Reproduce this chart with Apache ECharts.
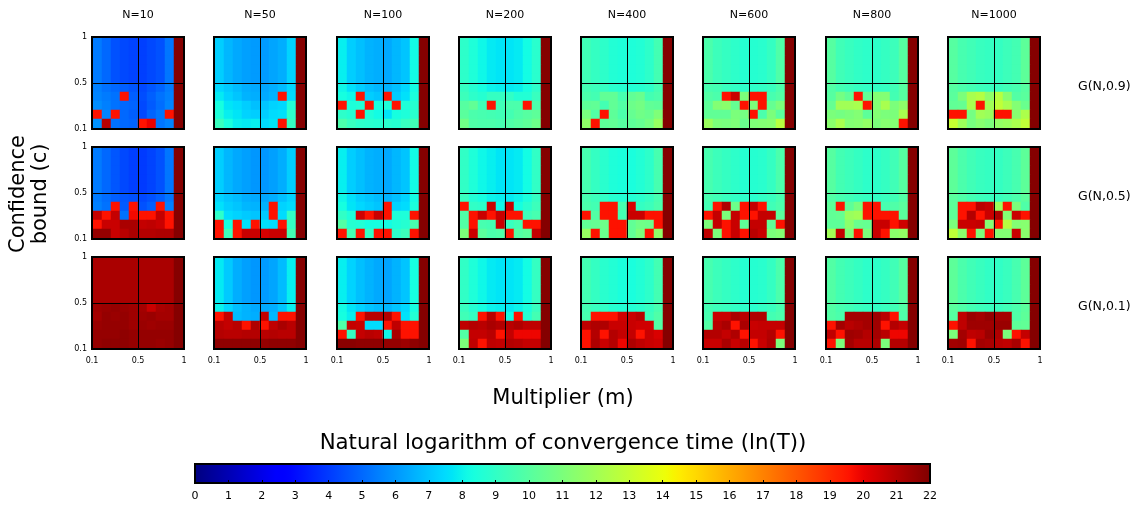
<!DOCTYPE html>
<html><head><meta charset="utf-8">
<style>html,body{margin:0;padding:0;background:#fff}#c{width:1137px;height:506px}</style>
<script src="https://cdn.jsdelivr.net/npm/echarts@6/dist/echarts.min.js"></script>
</head><body><div id="c"></div>
<script>
const sizes = ['N=10','N=50','N=100','N=200','N=400','N=600','N=800','N=1000'];
const games = ['G(N,0.9)','G(N,0.5)','G(N,0.1)'];
const ticks = {0:'0.1',5:'0.5',10:'1'};
const EDGE = 21.9;
// each panel: first row = the five upper rows (c>0.5), then the five lower rows, top to bottom; 9 columns + dark edge column
const N10_G09=[[5.4,5.0,4.5,4.3,4.2,4.1,4.3,4.5,5.3],[5.5,5.2,5.0,4.8,4.6,4.3,4.6,4.9,5.4],[5.6,5.4,5.2,19.6,4.8,4.4,4.8,5.2,5.5],[5.8,5.5,5.2,5.0,4.9,4.3,4.7,5.1,5.6],[19.6,5.6,19.6,5.0,4.8,4.3,4.9,5.3,19.6],[5.9,20.9,5.2,5.0,4.9,19.6,20.0,5.3,5.6]];
const N50_G09=[[7.2,6.7,6.4,6.2,6.1,6.1,6.3,6.5,7.3],[7.4,7.1,6.8,6.5,6.4,6.3,6.5,6.8,7.4],[7.8,7.3,7.0,6.6,6.5,6.4,6.6,19.6,7.5],[8.3,7.7,7.5,7.2,6.9,7.0,7.3,7.4,8.6],[8.5,7.9,7.7,7.3,7.2,7.2,7.5,7.6,8.9],[9.2,8.4,7.9,7.8,7.9,7.5,7.7,19.6,9.1]];
const N100_G09=[[7.9,7.2,6.9,6.6,6.5,6.4,6.7,7.0,8.2],[8.1,7.6,7.2,6.9,6.7,6.6,6.9,7.4,8.2],[8.3,8.1,19.6,7.2,7.0,19.6,7.1,7.6,8.4],[19.6,8.5,8.6,19.6,8.3,8.5,19.6,8.5,8.7],[8.9,8.7,19.6,8.5,8.2,7.7,8.3,8.5,8.8],[9.7,9.2,8.9,8.8,8.7,8.8,8.7,9.2,9.4]];
const N200_G09=[[8.9,8.5,8.1,7.8,7.7,7.7,7.8,8.2,8.8],[9.1,8.7,8.3,8.0,7.9,7.8,7.9,8.3,8.9],[9.3,8.9,8.7,9.1,9.1,9.0,8.6,8.6,9.2],[10.0,10.3,9.4,19.6,9.4,9.7,9.7,19.6,9.7],[10.1,9.7,9.6,9.5,9.4,9.5,9.8,10.0,10.2],[10.7,9.8,9.7,9.7,9.6,9.8,10.0,10.2,10.6]];
const N400_G09=[[9.4,9.1,8.9,8.6,8.5,8.5,8.6,8.9,9.5],[9.5,9.3,9.1,8.8,8.7,8.6,8.7,8.9,9.5],[9.7,9.5,10.3,10.3,9.6,10.3,10.5,9.5,9.7],[10.2,10.3,9.5,10.3,9.9,10.6,10.8,10.3,10.2],[10.9,9.9,19.6,10.2,9.7,10.4,10.7,10.5,11.1],[11.5,19.6,10.2,10.3,10.0,10.2,10.4,10.8,11.7]];
const N600_G09=[[9.7,9.3,9.1,8.9,8.7,8.7,8.8,9.1,9.8],[9.6,9.5,9.2,9.0,8.9,8.9,9.0,9.2,9.7],[9.9,9.7,19.6,20.6,11.0,19.6,19.6,9.6,9.9],[10.2,11.2,11.4,10.4,19.6,11.0,19.6,10.4,11.0],[10.3,10.3,10.3,11.0,10.8,19.6,9.7,11.0,10.1],[11.8,11.0,10.9,11.1,10.5,11.1,11.2,11.3,12.6]];
const N800_G09=[[10.0,9.4,9.2,9.0,8.9,8.9,9.1,9.3,10.0],[9.9,9.5,9.3,9.1,9.0,9.0,9.1,9.4,10.0],[10.0,10.8,10.3,19.6,10.3,11.2,11.2,9.5,10.0],[10.4,12.0,12.0,12.2,19.6,11.2,12.2,11.0,11.5],[11.0,10.8,11.0,11.2,10.2,11.2,11.0,11.0,12.2],[11.4,12.2,11.2,11.3,11.6,11.0,11.3,11.2,19.6]];
const N1000_G09=[[10.0,9.6,9.4,9.2,9.1,9.1,9.3,9.5,10.2],[10.0,9.7,9.5,9.3,9.2,9.2,9.4,9.6,10.0],[10.1,11.0,12.2,12.5,11.5,12.6,11.3,9.9,10.1],[10.3,10.4,12.2,19.6,12.0,12.8,12.2,11.2,10.5],[19.6,19.6,10.8,12.0,11.8,19.6,19.6,11.3,12.3],[13.0,11.9,10.9,11.3,11.0,11.6,11.8,12.2,12.8]];
const N10_G05=[[5.4,5.0,4.6,4.3,4.1,4.0,4.2,4.5,5.3],[5.4,5.1,4.8,4.6,4.5,4.3,4.5,4.8,5.3],[5.5,5.2,19.6,4.7,19.6,4.5,4.8,19.6,5.5],[20.7,19.6,20.7,5.2,19.8,19.6,19.6,20.7,19.6],[19.6,20.6,20.6,21.2,21.2,20.7,20.8,20.6,19.6],[21.6,21.6,20.6,20.9,21.2,21.0,21.0,21.1,21.1]];
const N50_G05=[[7.2,6.7,6.4,6.2,6.0,6.0,6.2,6.5,7.2],[7.3,7.0,6.8,6.5,6.4,6.3,6.5,6.9,7.3],[7.6,7.2,7.0,6.7,6.6,6.6,19.6,7.3,7.5],[8.9,7.5,7.3,7.1,7.0,7.1,19.6,7.5,9.0],[19.6,8.3,19.6,7.6,19.6,7.6,7.5,19.6,9.1],[19.6,9.3,19.6,20.6,20.6,20.4,20.6,20.6,9.5]];
const N100_G05=[[7.9,7.2,6.9,6.6,6.5,6.4,6.7,7.0,8.2],[8.1,7.6,7.2,7.0,6.8,6.6,6.9,7.3,8.2],[8.3,7.7,7.4,7.2,7.0,19.6,7.3,7.5,8.4],[9.0,8.5,20.5,19.6,20.6,19.6,8.5,8.5,19.6],[9.9,8.7,8.6,8.3,8.3,8.2,8.5,8.7,9.6],[19.6,9.5,19.6,9.0,19.6,19.6,8.9,9.3,19.6]];
const N200_G05=[[9.0,8.5,8.1,7.9,7.7,7.7,7.8,8.2,9.0],[9.2,8.6,8.3,8.0,7.9,7.8,8.0,8.4,9.1],[19.6,9.0,8.9,20.6,8.1,20.6,8.3,8.8,9.3],[9.8,19.6,20.6,19.6,20.6,19.6,19.6,9.3,9.6],[9.9,19.6,9.6,9.5,20.6,9.2,9.5,19.6,19.6],[11.0,20.6,10.1,9.7,9.8,19.6,9.9,10.1,20.7]];
const N400_G05=[[9.6,9.1,8.8,8.5,8.4,8.4,8.6,8.9,9.6],[9.6,9.3,9.0,8.7,8.6,8.6,8.8,9.1,9.6],[9.7,9.5,19.6,19.6,9.6,20.3,9.1,9.3,9.7],[19.6,9.9,19.6,19.6,9.5,20.6,20.6,19.6,19.6],[10.3,10.4,10.6,19.6,19.6,10.3,10.7,10.6,19.6],[11.7,19.6,10.5,19.6,19.6,10.3,11.0,19.6,11.5]];
const N600_G05=[[9.6,9.3,9.1,8.9,8.7,8.7,8.8,9.1,9.7],[9.6,9.4,9.2,9.0,8.9,8.8,9.0,9.2,9.6],[9.5,19.6,21.1,10.6,19.6,20.7,19.6,9.4,9.7],[19.6,20.7,11.0,20.7,19.6,19.6,20.7,20.7,10.1],[11.0,20.7,19.6,20.6,10.2,20.7,20.7,10.3,19.6],[20.8,11.0,19.6,20.6,19.6,20.9,20.6,11.0,11.2]];
const N800_G05=[[10.0,9.5,9.3,9.1,8.9,8.9,9.1,9.4,10.0],[9.9,9.6,9.4,9.2,9.1,9.0,9.2,9.4,9.9],[10.2,19.6,10.2,10.9,19.6,19.6,9.6,9.8,10.1],[10.3,10.4,11.8,12.0,19.6,19.6,19.6,19.6,10.1],[10.2,10.2,11.4,10.5,10.4,20.6,20.6,19.6,20.5],[12.0,20.7,11.1,19.6,11.0,20.6,19.6,11.4,11.6]];
const N1000_G05=[[10.2,9.7,9.4,9.2,9.1,9.1,9.3,9.6,10.2],[10.1,9.8,9.5,9.3,9.2,9.2,9.4,9.7,10.1],[10.2,19.6,19.6,20.9,20.7,11.8,19.6,11.0,9.8],[10.2,19.6,21.0,19.6,20.6,21.1,11.2,20.6,19.6],[11.0,20.6,20.6,20.7,11.2,19.6,12.6,11.2,11.3],[12.8,11.4,19.6,11.0,19.6,11.2,11.2,20.6,11.4]];
const N10_G01=[[21.2,21.2,21.2,21.2,21.2,21.2,21.2,21.2,21.2],[21.4,21.5,21.6,21.5,21.4,21.3,20.6,21.2,21.3],[21.3,21.6,21.5,21.6,21.4,21.4,21.5,21.3,21.3],[21.5,21.6,21.6,21.6,21.4,21.5,21.4,21.5,21.5],[21.6,21.6,21.6,21.7,21.6,21.6,21.6,21.6,21.6],[21.6,21.7,21.7,21.7,21.6,21.6,21.6,21.5,21.6]];
const N50_G01=[[7.8,7.1,6.5,6.2,6.0,6.1,6.3,6.8,7.9],[8.0,7.4,6.9,6.6,6.4,6.4,6.5,7.0,7.9],[19.6,20.7,6.8,6.6,6.5,20.7,6.7,19.6,19.6],[20.9,20.7,20.9,19.6,21.1,19.6,20.8,21.2,20.9],[21.0,20.9,20.9,21.0,21.0,20.9,21.0,20.9,20.9],[21.7,21.7,21.7,21.7,21.7,21.6,21.7,21.7,21.7]];
const N100_G01=[[7.9,7.3,6.9,6.6,6.4,6.3,6.6,7.0,8.3],[8.2,7.7,7.3,7.0,6.8,6.7,7.0,7.4,8.3],[8.3,7.9,19.6,20.9,20.9,21.0,19.6,7.6,8.6],[9.8,20.7,20.6,7.5,7.5,19.6,20.8,19.6,19.6],[19.6,9.1,20.7,20.9,20.8,8.1,21.2,19.6,19.6],[21.8,21.8,21.7,21.7,21.7,21.6,21.6,21.4,21.7]];
const N200_G01=[[9.0,8.5,8.1,7.8,7.7,7.7,7.8,8.2,9.1],[9.2,8.7,8.3,8.0,7.9,7.8,8.0,8.4,9.2],[9.4,9.1,19.6,20.9,19.6,8.2,19.6,8.7,9.5],[20.8,21.0,20.9,21.2,21.0,20.9,21.1,20.8,20.8],[9.9,20.7,20.7,20.9,19.6,20.7,19.9,19.9,19.9],[11.0,20.8,19.6,20.8,20.7,21.0,20.9,20.7,20.7]];
const N400_G01=[[9.5,9.1,8.8,8.6,8.4,8.4,8.6,8.9,9.5],[9.5,9.2,9.0,8.7,8.6,8.6,8.8,9.1,9.6],[9.6,19.6,19.6,19.6,20.5,20.6,20.9,9.3,9.8],[20.8,21.1,21.1,20.6,20.6,20.6,20.5,20.5,9.9],[19.6,21.0,19.6,21.0,20.7,20.7,19.6,20.6,20.3],[19.6,21.1,20.6,21.0,19.9,21.1,20.8,20.6,20.5]];
const N600_G01=[[9.6,9.3,9.1,8.9,8.7,8.7,8.8,9.1,9.7],[9.5,9.3,9.2,9.0,8.9,8.8,9.0,9.2,9.6],[9.6,20.6,20.6,21.2,20.9,21.1,21.1,9.5,9.7],[9.9,20.9,21.2,19.6,21.2,20.6,20.7,20.7,20.7],[21.0,21.0,20.7,21.1,19.6,20.7,20.7,21.0,19.6],[20.6,20.6,21.2,20.6,20.9,19.6,20.6,21.1,11.0]];
const N800_G01=[[9.9,9.5,9.3,9.1,8.9,8.9,9.1,9.4,10.0],[9.9,9.6,9.4,9.2,9.1,9.0,9.2,9.4,9.9],[9.9,9.7,21.3,21.3,21.3,21.4,20.9,19.6,9.8],[19.6,21.3,20.9,21.1,21.3,21.4,19.6,21.0,20.7],[20.8,19.6,21.4,21.3,21.0,21.3,20.9,19.9,19.9],[19.6,11.0,21.3,20.9,20.9,21.1,11.0,21.0,21.0]];
const N1000_G01=[[10.2,9.7,9.4,9.2,9.0,9.0,9.2,9.6,10.2],[10.1,9.8,9.5,9.3,9.2,9.2,9.4,9.7,10.1],[10.0,20.8,21.5,21.3,21.6,21.3,21.3,9.8,10.2],[19.6,20.8,21.4,21.4,21.4,21.5,21.5,10.2,10.3],[11.0,21.3,20.8,20.9,21.5,21.1,11.0,19.6,20.7],[21.3,21.4,19.6,21.3,21.2,20.9,20.8,21.2,19.6]];
const panels = [
 [N10_G09,N50_G09,N100_G09,N200_G09,N400_G09,N600_G09,N800_G09,N1000_G09],
 [N10_G05,N50_G05,N100_G05,N200_G05,N400_G05,N600_G05,N800_G05,N1000_G05],
 [N10_G01,N50_G01,N100_G01,N200_G01,N400_G01,N600_G01,N800_G01,N1000_G01]
];

// layout
const LEFTS=[92,214,337,459,581,703,826,948], TOPS=[37,147,257], SIZE=92;
const FONT='"DejaVu Sans"';

// matplotlib jet
function seg(t,pts){for(let i=1;i<pts.length;i++){if(t<=pts[i][0]){const a=pts[i-1],b=pts[i];return a[1]+(b[1]-a[1])*(t-a[0])/(b[0]-a[0]);}}return pts[pts.length-1][1];}
const RS=[[0,0],[.35,0],[.66,1],[.89,1],[1,.5]],GS=[[0,0],[.125,0],[.375,1],[.64,1],[.91,0],[1,0]],BS=[[0,.5],[.11,1],[.34,1],[.65,0],[1,0]];
const jet=[];for(let i=0;i<=220;i++){const t=i/220;jet.push('rgb('+[RS,GS,BS].map(s=>Math.round(seg(t,s)*255)).join(',')+')');}

const grid=[],xAxis=[],yAxis=[],series=[],title=[];
const cats=[0,1,2,3,4,5,6,7,8,9];
panels.forEach((rowP,r)=>rowP.forEach((p,c)=>{
  const rect={left:LEFTS[c],top:TOPS[r],width:SIZE,height:SIZE};
  const gi=grid.length;
  // cells sit on whole pixels (9 px each) just inside the 92 px frame
  grid.push({left:LEFTS[c]+1,top:TOPS[r]+1,width:SIZE-2,height:SIZE-2,show:false});
  grid.push({...rect,show:true,z:6,borderColor:'#000',borderWidth:2,backgroundColor:'transparent'});
  xAxis.push({gridIndex:gi,type:'category',data:cats,show:false});
  yAxis.push({gridIndex:gi,type:'category',data:cats,show:false});
  const ov=(showLab,pos)=>({gridIndex:gi+1,type:'value',min:0,max:10,interval:5,position:pos,z:5,
    axisLine:{show:false},axisTick:{show:false},
    splitLine:{show:true,lineStyle:{color:'#000',width:1}},
    axisLabel:{show:showLab,fontFamily:FONT,fontSize:8,color:'#000',margin:pos==='bottom'?8:5,padding:pos==='left'?[2,0,0,0]:0,showMinLabel:true,showMaxLabel:true,hideOverlap:false,formatter:v=>ticks[v]}});
  xAxis.push(ov(r===2,'bottom'));
  yAxis.push(ov(c===0,'left'));
  const rows=[p[0],p[0],p[0],p[0],p[0],...p.slice(1)];
  const data=[];
  rows.forEach((vals,ri)=>{[...vals,EDGE].forEach((v,ci)=>data.push([ci,9-ri,v]));});
  series.push({type:'heatmap',xAxisIndex:gi,yAxisIndex:gi,data,silent:true,progressive:0,emphasis:{disabled:true},animation:false});
}));
// colour bar axis
const cbi=grid.length;
grid.push({left:195,top:464,width:735,height:19,show:true,z:6,borderColor:'#000',borderWidth:2,backgroundColor:'transparent'});
xAxis.push({gridIndex:cbi,type:'value',min:0,max:22,interval:1,z:7,axisLine:{show:false},axisTick:{show:true,inside:true,length:3,lineStyle:{color:'#000'}},splitLine:{show:false},axisLabel:{fontFamily:FONT,fontSize:11,color:'#000',margin:8,showMinLabel:true,showMaxLabel:true,hideOverlap:false}});
yAxis.push({gridIndex:cbi,type:'value',min:0,max:1,show:false});

sizes.forEach((s,c)=>title.push({text:s,left:LEFTS[c]+SIZE/2,top:10,textAlign:'center',padding:0,textStyle:{fontFamily:FONT,fontSize:11,fontWeight:'normal',color:'#000'}}));
games.forEach((g,r)=>title.push({text:g,left:1078,top:TOPS[r]+SIZE/2-3,padding:0,textStyle:{fontFamily:FONT,fontSize:12.5,fontWeight:'normal',color:'#000'}}));
title.push({text:'Multiplier (m)',left:563,top:388,textAlign:'center',padding:0,textStyle:{fontFamily:FONT,fontSize:21,fontWeight:'normal',color:'#000'}});
title.push({text:'Natural logarithm of convergence time (ln(T))',left:563,top:433,textAlign:'center',padding:0,textStyle:{fontFamily:FONT,fontSize:21.3,fontWeight:'normal',color:'#000'}});

const chart=echarts.init(document.getElementById('c'),null,{renderer:'canvas'});
chart.setOption({
  animation:false,backgroundColor:'#fff',textStyle:{fontFamily:FONT},
  grid,xAxis,yAxis,series,title,
  visualMap:{type:'continuous',min:0,max:22,seriesIndex:series.map((_,i)=>i),orient:'horizontal',left:195,top:464,itemWidth:19,itemHeight:735,padding:0,text:null,calculable:false,realtime:false,hoverLink:false,showLabel:false,inRange:{color:jet},textStyle:{color:'transparent',fontSize:1}},
  graphic:[{type:'text',rotation:Math.PI/2,x:29.5,y:194,silent:true,style:{text:'Confidence\nbound (c)',fontFamily:FONT,fontSize:21,fill:'#000',align:'center',verticalAlign:'middle',lineHeight:22}}]
});
</script></body></html>
